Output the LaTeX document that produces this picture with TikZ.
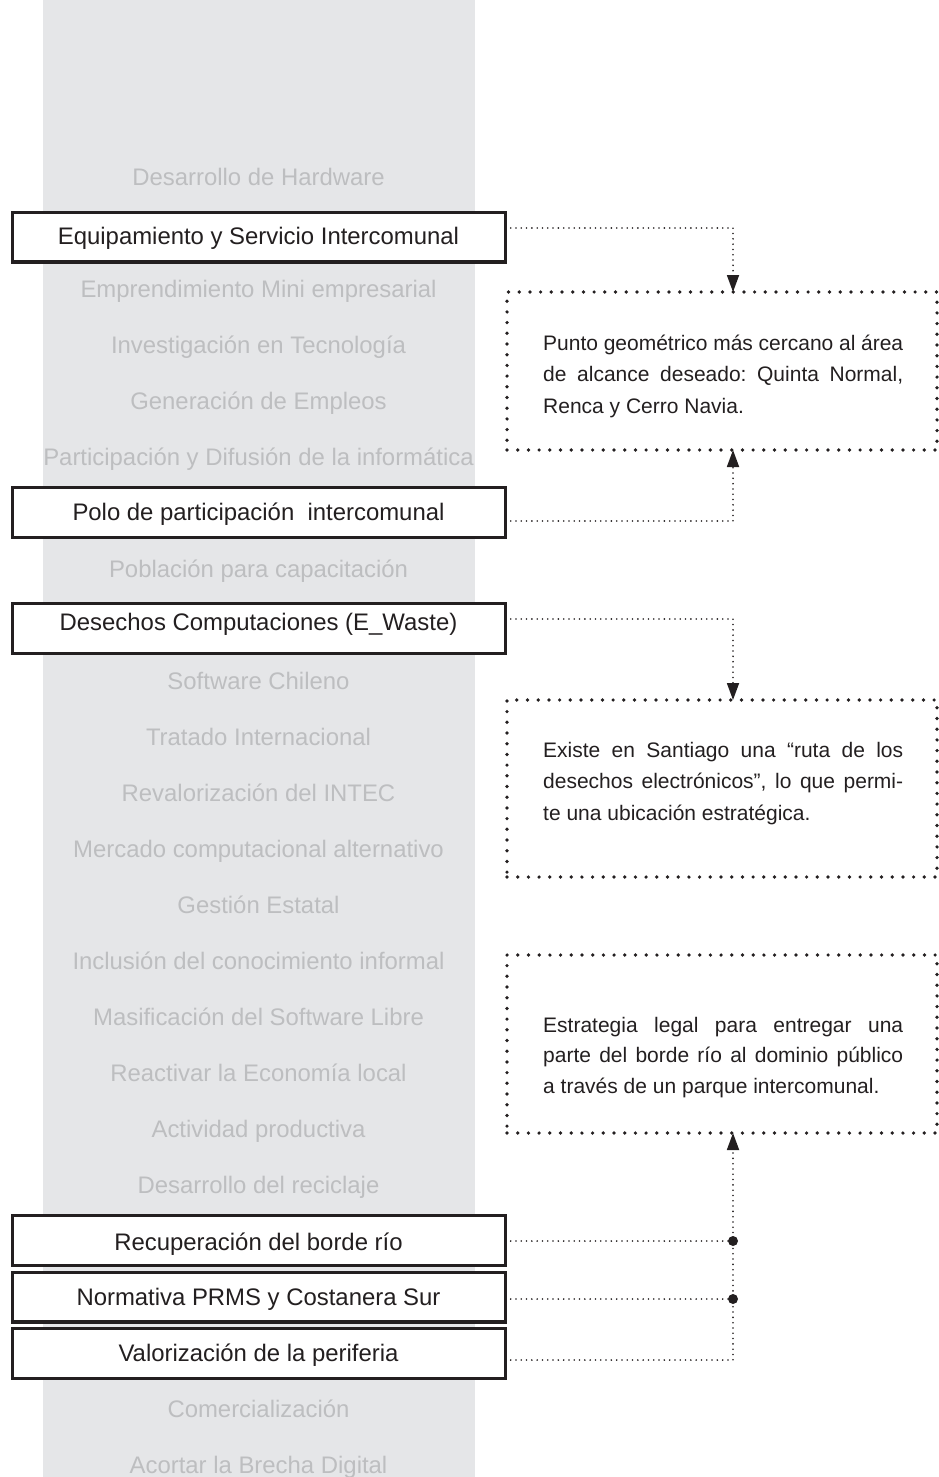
\documentclass[tikz,border=0pt]{standalone}
\usepackage{fontspec}
\setmainfont{Liberation Sans}
\usetikzlibrary{arrows.meta}

\definecolor{colbg}{HTML}{E5E6E8}
\definecolor{faint}{HTML}{BDBEC0}
\definecolor{ink}{HTML}{231F20}

\tikzset{
  listitem/.style={text=faint, font=\fontsize{23.9}{28}\selectfont,
    text height=17pt, text depth=0pt, inner sep=0pt},
  keytext/.style={text=ink, font=\fontsize{23.9}{28}\selectfont,
    text height=17pt, text depth=0pt, inner sep=0pt},
  keybox/.style={draw=ink, fill=white, line width=3.3pt,
    minimum width=492.7pt, minimum height=49.7pt, inner sep=0pt, outer sep=0pt},
  notebox/.style={draw=ink, line width=3.7pt, line cap=round,
    dash pattern=on 0pt off 10.7pt, minimum width=430pt, inner sep=0pt, outer sep=0pt},
  notetext/.style={text=ink, font=\fontsize{21}{31}\selectfont\frenchspacing,
    inner sep=0pt, anchor=base west},
  link/.style={draw=ink, line width=1.8pt, line cap=round,
    dash pattern=on 0pt off 5.3pt},
  linkarrow/.style={link, -{Triangle[length=17pt,width=12pt]}},
  junction/.style={fill=ink}
}

\newcommand{\fullline}[1]{\hbox to 360pt{#1}}
\newcommand{\lastline}[1]{\hbox{#1}}

\begin{document}
\begin{tikzpicture}[x=1pt,y=-1pt]
  \useasboundingbox (0,0) rectangle (939,1477);
  \fill[colbg] (43,0) rectangle (474.5,1477);

  % column of topics
  \node[listitem] (l0)  at (258.5,177)  {Desarrollo de Hardware};
  \node[listitem] (l2)  at (258.5,289)  {Emprendimiento Mini empresarial};
  \node[listitem] (l3)  at (258.5,345)  {Investigación en Tecnología};
  \node[listitem] (l4)  at (258.5,401)  {Generación de Empleos};
  \node[listitem] (l5)  at (258.5,457)  {Participación y Difusión de la informática};
  \node[listitem] (l7)  at (258.5,569)  {Población para capacitación};
  \node[listitem] (l9)  at (258.5,681)  {Software Chileno};
  \node[listitem] (l10) at (258.5,737)  {Tratado Internacional};
  \node[listitem] (l11) at (258.5,793)  {Revalorización del INTEC};
  \node[listitem] (l12) at (258.5,849)  {Mercado computacional alternativo};
  \node[listitem] (l13) at (258.5,905)  {Gestión Estatal};
  \node[listitem] (l14) at (258.5,961)  {Inclusión del conocimiento informal};
  \node[listitem] (l15) at (258.5,1017) {Masificación del Software Libre};
  \node[listitem] (l16) at (258.5,1073) {Reactivar la Economía local};
  \node[listitem] (l17) at (258.5,1129) {Actividad productiva};
  \node[listitem] (l18) at (258.5,1185) {Desarrollo del reciclaje};
  \node[listitem] (l22) at (258.5,1409) {Comercialización};
  \node[listitem] (l23) at (258.5,1465) {Acortar la Brecha Digital};

  % highlighted topics
  \node[keybox] (b1) at (259,237)    {};
  \node[keytext] (t1) at (258.5,235.5) {Equipamiento y Servicio Intercomunal};
  \node[keybox] (b2) at (259,512.5)  {};
  \node[keytext] (t2) at (258.5,512)   {Polo de participación~~intercomunal};
  \node[keybox] (b3) at (259,628.5)  {};
  \node[keytext] (t3) at (258.5,622)   {Desechos Computaciones (E\_Waste)};
  \node[keybox] (b4) at (259,1240.5) {};
  \node[keytext] (t4) at (258.5,1241.5) {Recuperación del borde río};
  \node[keybox] (b5) at (259,1297)   {};
  \node[keytext] (t5) at (258.5,1297)  {Normativa PRMS y Costanera Sur};
  \node[keybox] (b6) at (259,1353.5) {};
  \node[keytext] (t6) at (258.5,1353)  {Valorización de la periferia};

  % explanatory notes
  \node[notebox, minimum height=158pt] (n1) at (722,371) {};
  \node[notetext] (m1) at (543,350) {\vtop{\baselineskip=31.5pt
    \fullline{Punto geométrico más cercano al área}
    \fullline{de alcance deseado: Quinta Normal,}
    \lastline{Renca y Cerro Navia.}}};

  \node[notebox, minimum height=177pt] (n2) at (722,788.5) {};
  \node[notetext] (m2) at (543,757) {\vtop{\baselineskip=31.5pt
    \fullline{Existe en Santiago una “ruta de los}
    \fullline{desechos electrónicos”, lo que permi-}
    \lastline{te una ubicación estratégica.}}};

  \node[notebox, minimum height=178pt] (n3) at (722,1044) {};
  \node[notetext] (m3) at (543,1032) {\vtop{\baselineskip=30.5pt
    \fullline{Estrategia legal para entregar una}
    \fullline{parte del borde río al dominio público}
    \lastline{a través de un parque intercomunal.}}};

  % connector corners
  \coordinate (c1) at (733,228);
  \coordinate (c2) at (733,521);
  \coordinate (c3) at (733,619);
  \coordinate (j1) at (733,1241);
  \coordinate (j2) at (733,1299);
  \coordinate (c6) at (733,1360);

  \draw[linkarrow] (b1.east |- c1) -- (c1) -- (c1 |- n1.north);
  \draw[linkarrow] (b2.east |- c2) -- (c2) -- (c2 |- n1.south);
  \draw[linkarrow] (b3.east |- c3) -- (c3) -- (c3 |- n2.north);
  \draw[link] (b4.east |- j1) -- (j1);
  \draw[link] (b5.east |- j2) -- (j2);
  \draw[linkarrow] (b6.east |- c6) -- (c6) -- (c6 |- n3.south);

  \fill[junction] (j1) circle[radius=5pt];
  \fill[junction] (j2) circle[radius=5pt];
\end{tikzpicture}
\end{document}
